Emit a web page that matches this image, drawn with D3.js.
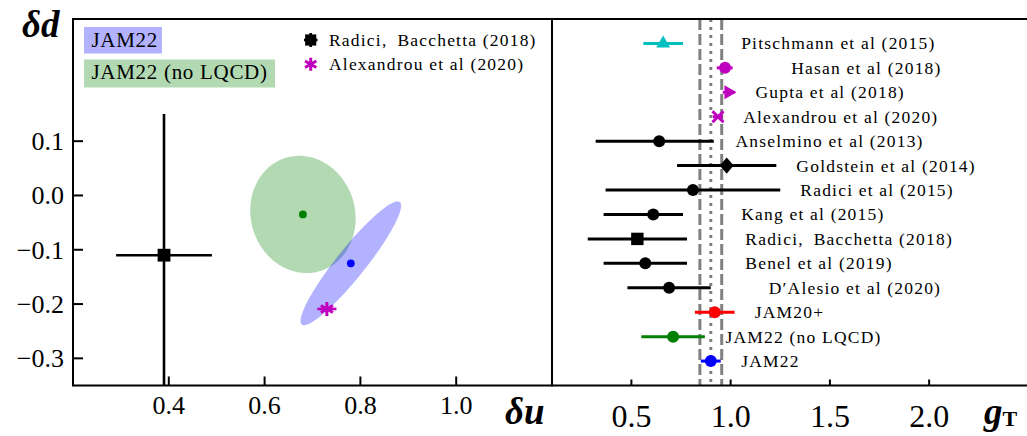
<!DOCTYPE html>
<html>
<head>
<meta charset="utf-8">
<script src="https://cdn.jsdelivr.net/npm/d3@7"></script>
<style>
  body { margin: 0; background: #fff; }
  text { font-family: "Liberation Serif", "Times New Roman", serif; fill: #000; }
</style>
</head>
<body>
<svg id="chart" width="1027" height="436"></svg>
<script>
'use strict';

// ---- left panel: delta u vs delta d ----
var duTicks = [0.4, 0.6, 0.8, 1.0],
    ddTicks = [0.1, 0.0, -0.1, -0.2, -0.3];

var ellipseNames = ['JAM22', 'JAM22 (no LQCD)'],
    ellipseDu = [0.78, 0.68],
    ellipseDd = [-0.125, -0.035],
    ellipseSigU = [0.105, 0.11],
    ellipseSigD = [0.114, 0.108],
    ellipseRho = [0.93, -0.07];

var pointNames = ['Radici,\u2002Bacchetta (2018)', 'Alexandrou et al (2020)'],
    pointDu = [0.39, 0.73],
    pointDuErr = [0.10, 0.02],
    pointDd = [-0.11, -0.209],
    pointDdErr = [0.26, 0];

// ---- right panel: tensor charge gT ----
var gtTicks = [0.5, 1.0, 1.5, 2.0];

var gtNames = [
  'Pitschmann et al (2015)',
  'Hasan et al (2018)',
  'Gupta et al (2018)',
  'Alexandrou et al (2020)',
  'Anselmino et al (2013)',
  'Goldstein et al (2014)',
  'Radici et al (2015)',
  'Kang et al (2015)',
  'Radici,\u2002Bacchetta (2018)',
  'Benel et al (2019)',
  'D\u2032Alesio et al (2020)',
  'JAM20+',
  'JAM22 (no LQCD)',
  'JAM22'
];
var gtValue = [0.66, 0.972, 0.989, 0.936, 0.64, 0.98, 0.81, 0.61, 0.53, 0.57, 0.69, 0.92, 0.71, 0.90],
    gtLow   = [0.56, 0.93, 0.96, 0.91, 0.32, 0.73, 0.37, 0.36, 0.28, 0.36, 0.48, 0.82, 0.55, 0.85],
    gtHigh  = [0.76, 1.01, 1.02, 0.96, 0.915, 1.23, 1.25, 0.76, 0.78, 0.78, 0.90, 1.02, 0.87, 0.95];
// where each label starts, in gT units
var gtLabelAt = [1.053, 1.305, 1.125, 1.063, 1.024, 1.331, 1.351, 1.053, 1.074, 1.074, 1.192, 1.121, 0.974, 1.053];

var bandEdges = [0.845, 0.955],
    bandCenter = 0.90;

// styles
var gtColor = ['#00bfbf', '#bf00bf', '#bf00bf', '#bf00bf', '#000', '#000', '#000', '#000',
               '#000', '#000', '#000', '#ff0000', '#008000', '#0000ff'],
    gtShape = ['triUp', 'circle', 'triRight', 'x', 'circle', 'diamond', 'circle', 'circle',
               'square', 'circle', 'circle', 'circle', 'circle', 'circle'];
var ellipseFill = ['#0000ff', '#008000'];

var svg = d3.select('#chart'),
    left = {x0: 73, x1: 552, y0: 19, y1: 385.5},
    right = {x0: 552, x1: 1028.4, y0: 19, y1: 385.5};

var xDu = d3.scaleLinear().domain([0.2, 1.2]).range([left.x0, left.x1]),
    yDd = d3.scaleLinear().domain([-0.35, 0.325]).range([left.y1, left.y0]),
    xGt = d3.scaleLinear().domain([0.1, 2.5]).range([right.x0, right.x1]),
    yRow = d3.scaleLinear().domain([0, 15]).range([right.y1, right.y0]);

var fmt = function (v) { return d3.format('.1f')(v).replace('-', '\u2212'); };

function markerPath(shape, r) {
  var h = r * 0.866;
  switch (shape) {
    case 'circle': return d3.symbol(d3.symbolCircle, Math.PI * r * r)();
    case 'square': return 'M' + -r + ',' + -r + 'H' + r + 'V' + r + 'H' + -r + 'Z';
    case 'diamond': return 'M0,' + (-r * 1.15) + 'L' + r + ',0L0,' + (r * 1.15) + 'L' + -r + ',0Z';
    case 'triUp': return 'M0,' + -r + 'L' + h + ',' + r * 0.5 + 'L' + -h + ',' + r * 0.5 + 'Z';
    case 'triRight': return 'M' + r + ',0L' + -r * 0.5 + ',' + h + 'L' + -r * 0.5 + ',' + -h + 'Z';
    case 'x': return 'M' + -r + ',' + -r + 'L' + r + ',' + r + 'M' + -r + ',' + r + 'L' + r + ',' + -r;
    case 'asterisk':
      return 'M0,' + -r + 'V' + r +
        'M' + -h + ',' + -r * 0.5 + 'L' + h + ',' + r * 0.5 +
        'M' + -h + ',' + r * 0.5 + 'L' + h + ',' + -r * 0.5;
  }
}

function drawMarker(g, shape, x, y, r, color) {
  var stroked = shape === 'x' || shape === 'asterisk';
  g.append('path')
    .attr('d', markerPath(shape, r))
    .attr('transform', 'translate(' + x + ',' + y + ')')
    .attr('fill', stroked ? 'none' : color)
    .attr('stroke', color)
    .attr('stroke-width', stroked ? 3 : 0);
}

// ================= left panel =================
var gl = svg.append('g');

// correlated error ellipses
var ts = d3.range(0, 2 * Math.PI + 0.01, Math.PI / 90);
ellipseNames.map(function (n, i) { return i; }).reverse().forEach(function (i) {
  var rho = ellipseRho[i], s = Math.sqrt(1 - rho * rho);
  var line = d3.line()
    .x(function (t) { return xDu(ellipseDu[i] + ellipseSigU[i] * Math.cos(t)); })
    .y(function (t) { return yDd(ellipseDd[i] + ellipseSigD[i] * (rho * Math.cos(t) + s * Math.sin(t))); });
  gl.append('path').attr('d', line(ts) + 'Z')
    .attr('fill', ellipseFill[i]).attr('fill-opacity', 0.3);
});
ellipseNames.forEach(function (n, i) {
  gl.append('circle').attr('cx', xDu(ellipseDu[i])).attr('cy', yDd(ellipseDd[i]))
    .attr('r', 3.9).attr('fill', ellipseFill[i]);
});

// point with error bars
var leftShape = ['square', 'asterisk'], leftColor = ['#000', '#bf00bf'];
pointNames.forEach(function (n, i) {
  var x = xDu(pointDu[i]), y = yDd(pointDd[i]);
  gl.append('line')
    .attr('x1', xDu(pointDu[i] - pointDuErr[i])).attr('x2', xDu(pointDu[i] + pointDuErr[i]))
    .attr('y1', y).attr('y2', y)
    .attr('stroke', leftColor[i]).attr('stroke-width', 2.6);
  if (pointDdErr[i] > 0) {
    gl.append('line')
      .attr('x1', x).attr('x2', x)
      .attr('y1', yDd(pointDd[i] + pointDdErr[i]))
      .attr('y2', Math.min(left.y1, yDd(pointDd[i] - pointDdErr[i])))
      .attr('stroke', leftColor[i]).attr('stroke-width', 2.6);
  }
  drawMarker(gl, leftShape[i], x, y, i === 0 ? 6.4 : 7, leftColor[i]);
});

// axes of left panel
gl.append('rect').attr('x', left.x0).attr('y', left.y0)
  .attr('width', left.x1 - left.x0).attr('height', left.y1 - left.y0)
  .attr('fill', 'none').attr('stroke', '#000').attr('stroke-width', 2);

ddTicks.forEach(function (v) {
  var y = yDd(v);
  gl.append('line').attr('x1', left.x0).attr('x2', left.x0 + 10).attr('y1', y).attr('y2', y)
    .attr('stroke', '#000').attr('stroke-width', 2);
  gl.append('text').attr('x', 64).attr('y', y + 8.8).attr('text-anchor', 'end')
    .style('font-size', '26px').text(fmt(v));
});
duTicks.forEach(function (v) {
  var x = xDu(v);
  gl.append('line').attr('x1', x).attr('x2', x).attr('y1', left.y1).attr('y2', left.y1 - 9)
    .attr('stroke', '#000').attr('stroke-width', 2);
  gl.append('text').attr('x', x).attr('y', 413.5).attr('text-anchor', 'middle')
    .style('font-size', '26px').text(fmt(v));
});

// legend: patches
var patchBox = [[84, 27, 78, 26.5], [84, 59.5, 191, 28]];
ellipseNames.forEach(function (n, i) {
  gl.append('rect').attr('x', patchBox[i][0]).attr('y', patchBox[i][1])
    .attr('width', patchBox[i][2]).attr('height', patchBox[i][3])
    .attr('fill', ellipseFill[i]).attr('fill-opacity', 0.3);
  gl.append('text').attr('x', 91.5).attr('y', patchBox[i][1] + 19.5)
    .style('font-size', '21px').style('letter-spacing', '0.7px').text(n);
});
// legend: points
pointNames.forEach(function (n, i) {
  var y = 40 + i * 24.3;
  if (i === 0) {
    gl.append('line').attr('x1', 304).attr('x2', 317.5).attr('y1', y).attr('y2', y)
      .attr('stroke', '#000').attr('stroke-width', 2.6);
    gl.append('line').attr('x1', 310.7).attr('x2', 310.7).attr('y1', y - 7).attr('y2', y + 7)
      .attr('stroke', '#000').attr('stroke-width', 2.6);
  }
  drawMarker(gl, leftShape[i], 310.7, y, i === 0 ? 5.6 : 6.5, leftColor[i]);
  gl.append('text').attr('x', 329).attr('y', y + 6)
    .style('font-size', '17.5px').style('letter-spacing', '1.2px').text(n);
});

// ================= right panel =================
var gr = svg.append('g');

// JAM22 band lines
bandEdges.forEach(function (v) {
  gr.append('line').attr('x1', xGt(v)).attr('x2', xGt(v)).attr('y1', right.y0).attr('y2', right.y1)
    .attr('stroke', '#808080').attr('stroke-width', 3).attr('stroke-dasharray', '11,4');
});
gr.append('line').attr('x1', xGt(bandCenter)).attr('x2', xGt(bandCenter))
  .attr('y1', right.y0).attr('y2', right.y1)
  .attr('stroke', '#808080').attr('stroke-width', 3).attr('stroke-dasharray', '3,5');

var markerR = {circle: 6, square: 6.2, diamond: 7, triUp: 8, triRight: 8, x: 5.5};
gtNames.forEach(function (n, i) {
  var y = yRow(gtNames.length - i);
  gr.append('line').attr('x1', xGt(gtLow[i])).attr('x2', xGt(gtHigh[i]))
    .attr('y1', y).attr('y2', y)
    .attr('stroke', gtColor[i]).attr('stroke-width', 3);
  drawMarker(gr, gtShape[i], xGt(gtValue[i]), y, markerR[gtShape[i]], gtColor[i]);
  gr.append('text').attr('x', xGt(gtLabelAt[i])).attr('y', y + 6)
    .style('font-size', '17.5px').style('letter-spacing', '1.2px').text(n);
});

gr.append('path')
  .attr('d', 'M' + right.x1 + ',' + right.y0 + 'H' + right.x0 + 'V' + right.y1 + 'H' + right.x1)
  .attr('fill', 'none').attr('stroke', '#000').attr('stroke-width', 2);

gtTicks.forEach(function (v) {
  var x = xGt(v);
  gr.append('line').attr('x1', x).attr('x2', x).attr('y1', right.y1).attr('y2', right.y1 - 6)
    .attr('stroke', '#000').attr('stroke-width', 2);
  gr.append('text').attr('x', x).attr('y', 427).attr('text-anchor', 'middle')
    .style('font-size', '32px').text(fmt(v));
});

// ---- axis titles ----
svg.append('text').attr('x', 22).attr('y', 37)
  .style('font-size', '37px').style('font-weight', 'bold').style('font-style', 'italic')
  .text('\u03b4d');
svg.append('text').attr('x', 505).attr('y', 424)
  .style('font-size', '37px').style('font-weight', 'bold').style('font-style', 'italic')
  .text('\u03b4u');
var gt = svg.append('text').attr('x', 984).attr('y', 424)
  .style('font-size', '37px').style('font-weight', 'bold').style('font-style', 'italic');
gt.append('tspan').text('g');
gt.append('tspan').attr('dy', 2).style('font-size', '22px').style('font-style', 'normal').text('T');
</script>
</body>
</html>
